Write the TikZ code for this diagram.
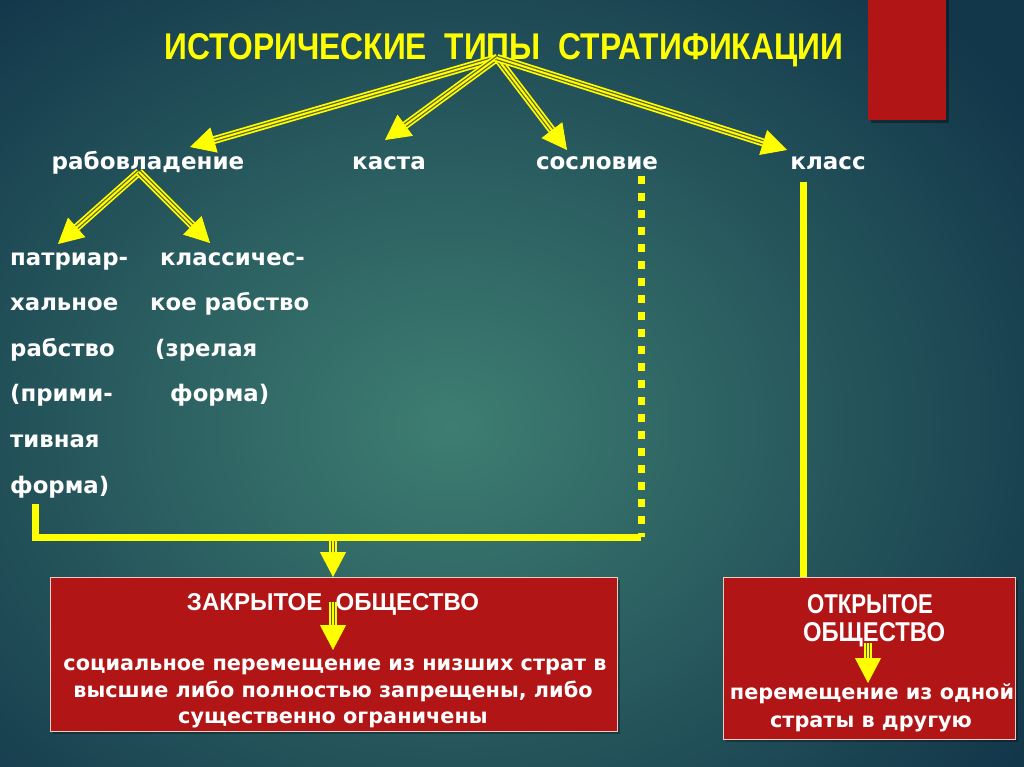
\documentclass[tikz,border=0pt]{standalone}
\usepackage{fontspec}
\setmainfont{DejaVu Sans}
\newfontfamily\narrowfont{Liberation Sans}
\usetikzlibrary{arrows.meta}
\definecolor{bgin}{RGB}{62,126,114}
\definecolor{bgout}{RGB}{18,54,74}
\definecolor{boxred}{RGB}{177,21,22}
\definecolor{ylw}{RGB}{255,255,0}
\definecolor{gapc}{RGB}{95,100,40}
\definecolor{boxedge}{RGB}{232,205,195}
\tikzset{
  lbl/.style={text=white,font=\bfseries\fontsize{23}{26}\selectfont,inner sep=0pt,anchor=base},
  col/.style={text=white,font=\bfseries\fontsize{22.8}{25}\selectfont,inner sep=0pt,anchor=base west},
  body/.style={text=white,font=\bfseries\fontsize{20.8}{25}\selectfont,inner sep=0pt,anchor=base},
  head/.style={text=white,inner sep=0pt,anchor=base},
  redbox/.style={fill=boxred,draw=boxedge,line width=1pt,anchor=north west,inner sep=0pt},
  yline/.style={draw=ylw,line width=7pt},
  ydots/.style={draw=ylw,line width=7pt,dash pattern=on 8pt off 9pt}
}
\newcommand\tarrow[2]{%
  \draw[ylw,line width=8pt,shorten >=22pt] (#1) -- (#2);
  \draw[gapc,line width=4.5pt,shorten >=22pt] (#1) -- (#2);
  \draw[ylw,line width=2pt,shorten >=22pt] (#1) -- (#2);
  \draw[ylw,line width=1pt,-{Triangle[length=25pt,width=26pt]}] (#1) -- (#2);}
\begin{document}
\begin{tikzpicture}[x=1pt,y=-1pt]
\useasboundingbox (0,0) rectangle (1024,767);
\begin{scope}
  \clip (0,0) rectangle (1024,767);
  \shade[inner color=bgin,outer color=bgout] (-250,-150) rectangle (1150,1000);
\end{scope}
% top-right red bar
\fill[black,opacity=0.35] (871,0) rectangle (949,123);
\fill[boxred] (868,0) rectangle (946,120);

% title
\node[inner sep=0pt,anchor=base,text=ylw] (title) at (504,60)
  {\resizebox{678pt}{26pt}{\narrowfont\bfseries ИСТОРИЧЕСКИЕ\ \ ТИПЫ\ \ СТРАТИФИКАЦИИ}};

% level labels
\node[lbl] (rab) at (148,170) {рабовладение};
\node[lbl] (kas) at (389,170) {каста};
\node[lbl] (sos) at (597,170) {сословие};
\node[lbl] (kla) at (828,170) {класс};

% columns
\node[col] (p1) at (10,265) {патриар-};
\node[col] (p2) at (10,310) {хальное};
\node[col] (p3) at (10,356) {рабство};
\node[col] (p4) at (10,401) {(прими-};
\node[col] (p5) at (10,447) {тивная};
\node[col] (p6) at (10,493) {форма)};
\node[col] (k1) at (160,265) {классичес-};
\node[col] (k2) at (150,310) {кое рабство};
\node[col] (k3) at (155,356) {(зрелая};
\node[col] (k4) at (170,401) {форма)};

% boxes
\fill[black,opacity=0.3] (53,580) rectangle (620,734);
\node[redbox,minimum width=567pt,minimum height=154pt] (closed) at (50,577) {};
\fill[black,opacity=0.3] (726,580) rectangle (1018,742);
\node[redbox,minimum width=292pt,minimum height=162pt] (open) at (723,577) {};

\node[head] (cht) at (333,610) {\resizebox{292pt}{17pt}{\narrowfont\bfseries ЗАКРЫТОЕ\ \ ОБЩЕСТВО}};
\node[body] (cb1) at (335,670) {социальное перемещение из низших страт в};
\node[body] (cb2) at (333,697) {высшие либо полностью запрещены, либо};
\node[body] (cb3) at (333,723) {существенно ограничены};

\node[head] (oh1) at (870,613) {\resizebox{126pt}{19pt}{\narrowfont\bfseries ОТКРЫТОЕ}};
\node[head] (oh2) at (874,641) {\resizebox{142pt}{19pt}{\narrowfont\bfseries ОБЩЕСТВО}};
\node[body] (ob1) at (872,699) {перемещение из одной};
\node[body] (ob2) at (871,727) {страты в другую};

% arrows from title
\coordinate (o) at (497,58);
\coordinate (t1) at (190,147);
\coordinate (t2) at (385,140);
\coordinate (t3) at (567,150);
\coordinate (t4) at (787,150);
\tarrow{o}{t1}
\tarrow{o}{t2}
\tarrow{o}{t3}
\tarrow{o}{t4}

% arrows from рабовладение
\coordinate (s0) at (139,172);
\coordinate (s1) at (58,244);
\coordinate (s2) at (210,243);
\tarrow{s0}{s1}
\tarrow{s0}{s2}

% bracket
\coordinate (lb) at (35.5,504);
\coordinate (lc) at (35.5,537);
\coordinate (rc) at (641,537);
\coordinate (rt) at (641,176);
\draw[ydots] (rt) -- (rc);
\draw[yline] (lb) -- (lc) -- (rc);

% class line
\coordinate (kb) at (803,182);
\draw[yline] (kb) -- (kb |- open.north);

% down arrows
\coordinate (m) at (333,540.5);
\tarrow{m}{m |- closed.north}
\coordinate (ci) at (333,602);
\coordinate (ct) at (333,650);
\tarrow{ci}{ct}
\coordinate (oi) at (868,643);
\coordinate (ot) at (868,683);
\tarrow{oi}{ot}
\end{tikzpicture}
\end{document}
